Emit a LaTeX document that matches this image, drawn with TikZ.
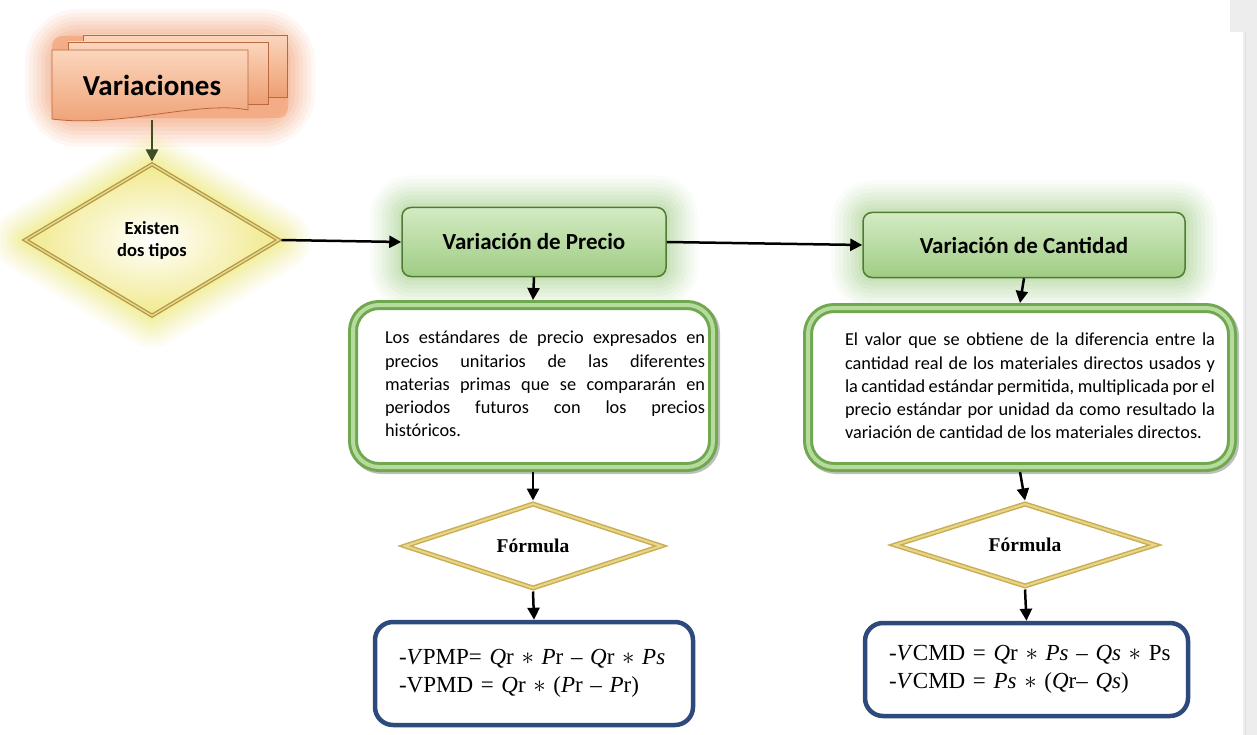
\documentclass[tikz,border=0pt]{standalone}
\usepackage{fontspec}
\setmainfont{Carlito}
\newfontfamily\fml{Liberation Serif}
\usetikzlibrary{shapes.geometric,arrows.meta}
\definecolor{pagegray}{HTML}{EDEDED}
\definecolor{or1}{HTML}{FBD5BC}
\definecolor{or2}{HTML}{EE9F72}
\definecolor{orb}{HTML}{B9693F}
\definecolor{orglow}{HTML}{F3A57A}
\definecolor{ylwglow}{HTML}{EEE760}
\definecolor{ylwin}{HTML}{F1E98C}
\definecolor{gold1}{HTML}{B09545}
\definecolor{gold2}{HTML}{E9D98C}
\definecolor{gold3}{HTML}{C9AE55}
\definecolor{gold4}{HTML}{E8D689}
\definecolor{gr1}{HTML}{D3EBC3}
\definecolor{gr2}{HTML}{9FCC83}
\definecolor{grb}{HTML}{4E7C34}
\definecolor{grglow}{HTML}{A9D38C}
\definecolor{ring1}{HTML}{6FA84E}
\definecolor{ring2}{HTML}{B7DA9E}
\definecolor{navy}{HTML}{2C4A7C}
\definecolor{olivearr}{HTML}{3E4D22}
\begin{document}
\begin{tikzpicture}[x=1pt,y=-1pt,
  glow/.style={preaction={draw=#1, line width=64pt, opacity=.06, line join=round},
               preaction={draw=#1, line width=56pt, opacity=.07, line join=round},
               preaction={draw=#1, line width=48pt, opacity=.08, line join=round},
               preaction={draw=#1, line width=40pt, opacity=.09, line join=round},
               preaction={draw=#1, line width=32pt, opacity=.10, line join=round},
               preaction={draw=#1, line width=24pt, opacity=.12, line join=round},
               preaction={draw=#1, line width=16pt, opacity=.14, line join=round},
               preaction={draw=#1, line width=8pt, opacity=.16, line join=round}},
  greenbox/.style={rectangle, rounded corners=9pt, top color=gr1, bottom color=gr2,
               draw=grb, line width=1.5pt, glow=grglow, inner sep=0pt,
               font=\bfseries\fontsize{23}{27}\selectfont},
  existd/.style={diamond, minimum width=255pt, minimum height=153pt, inner sep=0pt,
               aspect=1.67, align=center, inner color=white, outer color=ylwin,
               draw=gold1, line width=4pt, postaction={draw=gold2, line width=1.5pt},
               glow=ylwglow, font=\bfseries\fontsize{18.5}{22}\selectfont},
  descbox/.style={rectangle, rounded corners=26pt, draw=ring1, line width=10pt, fill=white,
               postaction={draw=ring2, line width=4pt},
               preaction={draw=black, opacity=.25, line width=10pt, transform canvas={shift={(2,2)}}},
               inner sep=0pt},
  desctext/.style={align=justify, inner sep=0pt, font=\fontsize{18.3}{23.2}\selectfont},
  fdiam/.style={diamond, fill=white, draw=gold3, line width=5pt, postaction={draw=gold4, line width=2pt},
               inner sep=0pt, aspect=2.9, font=\fml\bfseries\fontsize{19.5}{22}\selectfont},
  fbox/.style={rectangle, rounded corners=18pt, draw=navy, line width=4.5pt, fill=white,
               align=left, inner ysep=0pt, font=\fml\fontsize{23}{28}\selectfont},
  arr/.style={draw=black, line width=2.5pt, -{Triangle[length=12pt,width=12pt]}}
]
\useasboundingbox (0,0) rectangle (1257,735);
\fill[white] (0,0) rectangle (1257,735);
\fill[pagegray] (1230,0) rectangle (1257,32);
\fill[pagegray] (1243,32) rectangle (1257,735);
\draw[black!12, line width=1pt] (1245.5,32) -- (1245.5,735);

% Variaciones stack
\foreach \w/\o in {70/.08,62/.09,54/.10,46/.12,38/.14,30/.16,22/.18,14/.2}
  \draw[orglow, opacity=\o, line width=\w pt, line join=round, rounded corners=18pt] (60,44) rectangle (280,112);
\fill[orglow, opacity=.7, rounded corners=10pt] (52,36) rectangle (288,118);
\shade[top color=or1, bottom color=or2, draw=orb, line width=.8pt] (83,35) rectangle (287,97);
\shade[top color=or1, bottom color=or2, draw=orb, line width=.8pt] (68,42) rectangle (268,104);
\shade[top color=or1, bottom color=or2, draw=orb, line width=.8pt]
  (52,50) -- (248,50) -- (248,110) .. controls (200,100) and (120,128) .. (52,119) -- cycle;
\node[inner sep=0pt, minimum width=196pt, minimum height=70pt,
      font=\bfseries\fontsize{29}{32}\selectfont] (var) at (152,85) {Variaciones};

% Nodes
\node[existd] (exist) at (152,240) {Existen\\dos tipos};
\node[greenbox, minimum width=264pt, minimum height=69pt] (precio) at (534,242) {Variación de Precio};
\node[greenbox, minimum width=322pt, minimum height=65pt] (cant) at (1024,245) {Variación de Cantidad};

\node[descbox, minimum width=360pt, minimum height=162pt] (d1) at (533,386) {};
\node[desctext, text width=320pt] (d1t) at (545,384)
 {Los estándares de precio expresados en\linebreak
  precios unitarios de las diferentes\linebreak
  materias primas que se compararán en\linebreak
  periodos futuros con los precios\linebreak
  históricos.};
\node[descbox, minimum width=424pt, minimum height=159pt] (d2) at (1020,387.5) {};
\node[desctext, text width=370pt] (d2t) at (1030,386)
 {El valor que se obtiene de la diferencia entre la\linebreak
  cantidad real de los materiales directos usados y\linebreak
  la cantidad estándar permitida, multiplicada por el\linebreak
  precio estándar por unidad da como resultado la\linebreak
  variación de cantidad de los materiales directos.};

\node[fdiam, minimum width=258pt, minimum height=86pt] (f1) at (533,546) {Fórmula};
\node[fdiam, minimum width=262pt, minimum height=84pt] (f2) at (1025,545) {Fórmula};

\node[fbox, minimum width=318pt, minimum height=103pt, text width=290pt, inner xsep=14pt] (b1) at (534,673.5)
 {\hspace*{10pt}-\textit{V}PMP= \textit{Q}r $\ast$ \textit{P}r – \textit{Q}r $\ast$ \textit{Ps}\\
  \hspace*{10pt}-VPMD = \textit{Q}r $\ast$ (\textit{P}r – \textit{P}r)};
\node[fbox, minimum width=323pt, minimum height=93pt, text width=295pt, inner xsep=14pt] (b2) at (1026.5,669.5)
 {\hspace*{10pt}-\textit{V}CMD = \textit{Q}r $\ast$ \textit{Ps} – \textit{Qs} $\ast$ Ps\\
  \hspace*{10pt}-\textit{V}CMD = \textit{Ps} $\ast$ (\textit{Q}r– \textit{Qs})};

% Connectors
\draw[arr, draw=olivearr] (var.south) -- (exist.north);
\draw[arr] (exist.east) -- (precio.west);
\draw[arr] (precio.east) -- (cant.west);
\draw[arr] (precio.south) -- (d1.north);
\draw[arr] (cant.south) -- (d2.north);
\draw[arr] (d1.south) -- (f1.north);
\draw[arr] (d2.south) -- (f2.north);
\draw[arr] (f1.south) -- (b1.north);
\draw[arr] (f2.south) -- (b2.north);
\end{tikzpicture}
\end{document}
